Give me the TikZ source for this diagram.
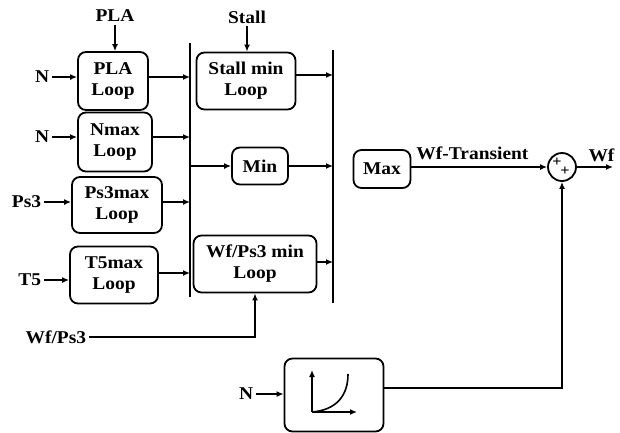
\documentclass[tikz,border=0pt]{standalone}
\usepackage{fontspec}
\setmainfont{Liberation Serif}[FakeStretch=1.08]
\usepackage{tikz}
\usetikzlibrary{arrows.meta,positioning}

\begin{document}
\begin{tikzpicture}[x=1pt,y=-1pt,line width=1.8pt,
  every node/.style={font=\bfseries\fontsize{18}{21}\selectfont},
  box/.style={draw,rounded corners=8pt,align=center,inner sep=1pt},
  lbl/.style={inner sep=2pt},
  arr/.style={-{Latex[length=7pt,width=6pt]}},
  bar/.style={line width=1.9pt},
  sgn/.style={font=\bfseries\fontsize{15}{15}\selectfont,inner sep=0pt}]
\useasboundingbox (0,0) rectangle (620,432);
% left column
\node[box,minimum width=70pt,minimum height=58pt](pla) at (113,81){PLA\\Loop};
\node[box,minimum width=74pt,minimum height=59pt](nmax) at (115,142){Nmax\\Loop};
\node[box,minimum width=90pt,minimum height=56pt](psmax) at (117,205){Ps3max\\Loop};
\node[box,minimum width=88pt,minimum height=57pt](tmax) at (114,275){T5max\\Loop};
% inputs
\node[lbl,anchor=east](n1) at (52,77){N};
\node[lbl,anchor=east](n2) at (52,137){N};
\node[lbl,anchor=east](ps) at (44,202){Ps3};
\node[lbl,anchor=east](t5) at (44,280){T5};
\node[lbl](plalbl) at (115,16){PLA};
\draw[arr](plalbl)--(plalbl |- pla.north);
\draw[arr](n1)--(n1 -| pla.west);
\draw[arr](n2)--(n2 -| nmax.west);
\draw[arr](ps)--(ps -| psmax.west);
\draw[arr](t5)--(t5 -| tmax.west);
% bars
\coordinate(b1t) at (190,43);
\coordinate(b1b) at (190,297);
\coordinate(b2t) at (333,50);
\coordinate(b2b) at (333,303);
\draw[bar](b1t)--(b1b);
\draw[bar](b2t)--(b2b);
\draw[arr](pla.east |- n1)--(n1 -| b1t);
\draw[arr](nmax.east |- n2)--(n2 -| b1t);
\draw[arr](psmax.east |- ps)--(ps -| b1t);
\draw[arr]([yshift=2pt]tmax.east)--([yshift=2pt]tmax.east -| b1t);
% middle column
\node[box,minimum width=99pt,minimum height=57pt](stall) at (246,81){Stall min\\Loop};
\node[box,minimum width=56pt,minimum height=37pt](minb) at (260,166){Min};
\node[box,minimum width=123pt,minimum height=57pt](wfps) at (255,264){Wf/Ps3 min\\Loop};
\node[lbl](stlbl) at (247,17){Stall};
\draw[arr](stlbl)--(stlbl |- stall.north);
\coordinate(so) at ([yshift=6pt]stall.east);
\draw[arr](so)--(so -| b2t);
\draw[arr](minb.west -| b1t)--(minb.west);
\draw[arr](minb)--(minb -| b2t);
\coordinate(wo) at ([yshift=2pt]wfps.east);
\draw[arr](wo)--(wo -| b2t);
\node[lbl,anchor=east](wflbl) at (89,337){Wf/Ps3};
\draw[arr](wflbl)-|(wfps.south);
% right part
\node[box,minimum width=57pt,minimum height=38pt](maxb) at (382,169){Max};
\node[draw,circle,minimum size=28pt,inner sep=0pt](sum) at (562,167){};
\node[sgn] at (557,162){+};
\node[sgn] at (565,171){+};
\draw[arr](maxb.east |- sum)--node[lbl,above,pos=0.45,inner sep=6pt]{Wf-Transient}(sum.west);
\coordinate(wfout) at (613,167);
\draw[arr](sum.east)--node[lbl,above,pos=0.68,inner sep=4pt]{Wf}(wfout);
% schedule block
\node[box,minimum width=99pt,minimum height=73pt](crv) at (334,395){};
\node[lbl,anchor=east](n3) at (256,394){N};
\draw[arr](n3)--(n3 -| crv.west);
\draw[arr]([yshift=7pt]crv.east)-|(sum.south);
\draw[arr,line width=1.6pt](312,412)--(312,370);
\draw[arr,line width=1.6pt](312,412)--(357,412);
\draw[line width=1.6pt](312,412) .. controls (336,410) and (348,396) .. (348,374);
\end{tikzpicture}
\end{document}
